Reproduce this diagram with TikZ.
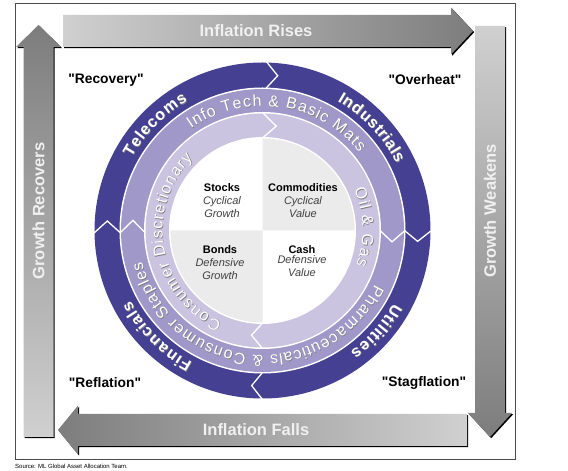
\documentclass[tikz,border=0pt]{standalone}
\usepackage{fontspec}
\setmainfont{Liberation Sans}
\newfontfamily\ringsans[Scale=1.6]{Liberation Sans}
\usetikzlibrary{decorations.text}
\definecolor{ringdark}{RGB}{69,64,145}
\definecolor{ringmid}{RGB}{160,152,200}
\definecolor{ringlight}{RGB}{202,196,225}
\definecolor{quadgrey}{RGB}{235,235,235}
\definecolor{arrowdark}{RGB}{125,125,125}
\definecolor{arrowlight}{RGB}{208,208,208}
\newcommand\assetsub[1]{\textcolor{black!75}{\itshape #1}}

\begin{document}
\begin{tikzpicture}[x=1pt, y=1pt,
    phase/.style = {font=\fontsize{13.8}{16}\selectfont\bfseries},
    flow/.style = {font=\fontsize{16.5}{19}\selectfont\bfseries, text=white!94!black},
    asset/.style = {align=center, font=\fontsize{11}{13}\selectfont},
    bigarrow/.style = {preaction={fill=black, transform canvas={xshift=1.2pt, yshift=-1.2pt}}},
    chevron/.style = {draw=white, line width=1.3pt}]
  \useasboundingbox (0,0) rectangle (568,471);
  \draw[black!70, line width=0.6pt] (15,12) rectangle (515,468);

  \shade[bigarrow, left color=arrowlight, right color=arrowdark]
    (63,424) -- (451,424) -- (451,416.5) -- (473,440) -- (451,463.5) -- (451,456) -- (63,456) -- cycle;
  \shade[bigarrow, top color=arrowdark, bottom color=arrowlight]
    (23.5,34) -- (53.5,34) -- (53.5,424) -- (61,424) -- (38.5,446) -- (16,424) -- (23.5,424) -- cycle;
  \shade[bigarrow, top color=arrowlight, bottom color=arrowdark]
    (475,445) -- (505,445) -- (505,58) -- (512,58) -- (490,34) -- (468,58) -- (475,58) -- cycle;
  \shade[bigarrow, left color=arrowdark, right color=arrowlight]
    (467,25) -- (78,25) -- (78,16.5) -- (58,41) -- (78,65.5) -- (78,57) -- (467,57) -- cycle;

  \node[flow] (rises) at (256,440) {Inflation Rises};
  \node[flow] (falls) at (256,41) {Inflation Falls};
  \node[flow, rotate=90] (recovers) at (38.5,260) {Growth Recovers};
  \node[flow, rotate=90] (weakens) at (490,260) {Growth Weakens};

  \node[phase] (recovery) at (106,391) {\textquotedbl Recovery\textquotedbl};
  \node[phase] (overheat) at (425,391) {\textquotedbl Overheat\textquotedbl};
  \node[phase] (reflation) at (105,88) {\textquotedbl Reflation\textquotedbl};
  \node[phase] (stagflation) at (424,88) {\textquotedbl Stagflation\textquotedbl};

  \begin{scope}[shift={(262.5,240.5)}]
    \foreach \r/\c in {168/ringdark, 143/white, 141.5/ringmid, 118.5/white, 117/ringlight, 93.5/white}
      \fill[\c] (0,0) circle (\r);
    \fill[quadgrey] (0,0) -- (92,0) arc[start angle=0, end angle=90, radius=92] -- cycle;
    \fill[quadgrey] (0,0) -- (-92,0) arc[start angle=180, end angle=270, radius=92] -- cycle;

    \foreach \a/\ri/\ro/\d in {88.7/142/169/4.3, 0/142/169/4, -90/142/169/4, 181/142/169/4.5,
        181/117.5/142.5/5.5, 0/117.5/142.5/5, 90/92.5/118/7.5, -90/92.5/118/6}
      \draw[chevron] (\a:\ri) -- ({\a-\d}:{(\ri+\ro)/2}) -- (\a:\ro);

    \foreach \dx/\tc in {0.7/black!50, 0/white}
      \foreach \r/\a/\b/\f/\txt in {
          149.5/151/120/\bfseries/Telecoms,
          149.5/60/26.5/\bfseries/Industrials,
          149.5/-29/-54/\bfseries/Utilities,
          149.5/242/208/\bfseries/Financials,
          124.5/125/39/\mdseries/Info Tech {\&} Basic Mats,
          124.5/-25.5/-165.5/\mdseries/Pharmaceuticals {\&} Consumer Staples,
          100/246/134/\mdseries/Consumer Discretionary,
          100/24/-20/\mdseries/Oil {\&} Gas}
        \path[shift={(\dx,-\dx)}, decorate, decoration={text effects along path,
            text/.expand once=\txt, text effects/.cd, text along path, fit text to path,
            characters={text=\tc, font=\ringsans\f, anchor=base, inner sep=0pt}}]
          (\a:\r) arc[start angle=\a, end angle=\b, radius=\r];

    \node[asset] (stocks) at (-40.5,30) {\textbf{Stocks}\\\assetsub{Cyclical}\\\assetsub{Growth}};
    \node[asset] (commodities) at (40.5,30) {\textbf{Commodities}\\\assetsub{Cyclical}\\\assetsub{Value}};
    \node[asset] (bonds) at (-42.5,-32.5) {\textbf{Bonds}\\\assetsub{Defensive}\\\assetsub{Growth}};
    \node[asset] (cash) at (39.5,-31) {\textbf{Cash}\\[-3pt]\assetsub{Defensive}\\\assetsub{Value}};
  \end{scope}

  \node[anchor=south west, inner sep=0pt, font=\fontsize{6}{7}\selectfont] (source) at (15,2.5)
    {Source: ML Global Asset Allocation Team.};
\end{tikzpicture}
\end{document}
